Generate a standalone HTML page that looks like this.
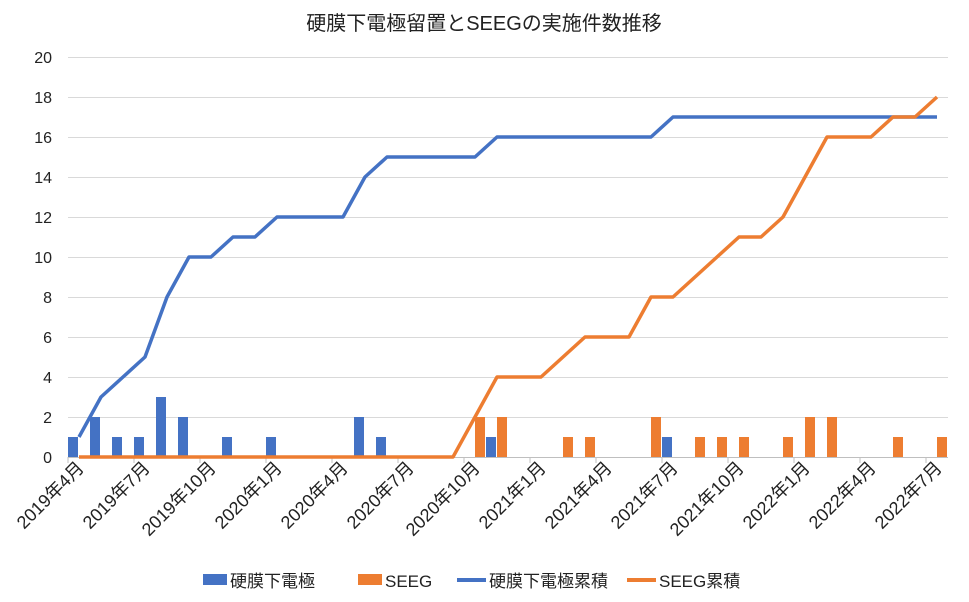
<!DOCTYPE html>
<html><head><meta charset="utf-8"><style>
html,body{margin:0;padding:0;background:#fff;}
svg{display:block;font-family:"Liberation Sans","Noto Sans CJK JP",sans-serif;}
</style></head><body>
<svg width="969" height="602" viewBox="0 0 969 602" xmlns="http://www.w3.org/2000/svg">
<rect width="969" height="602" fill="#fff"/>
<text x="484" y="30" font-size="20" text-anchor="middle" fill="#222">硬膜下電極留置とSEEGの実施件数推移</text>
<g stroke="#d9d9d9" stroke-width="1">
<line x1="68" x2="948" y1="57.5" y2="57.5"/><line x1="68" x2="948" y1="97.5" y2="97.5"/>
<line x1="68" x2="948" y1="137.5" y2="137.5"/><line x1="68" x2="948" y1="177.5" y2="177.5"/>
<line x1="68" x2="948" y1="217.5" y2="217.5"/><line x1="68" x2="948" y1="257.5" y2="257.5"/>
<line x1="68" x2="948" y1="297.5" y2="297.5"/><line x1="68" x2="948" y1="337.5" y2="337.5"/>
<line x1="68" x2="948" y1="377.5" y2="377.5"/><line x1="68" x2="948" y1="417.5" y2="417.5"/>
</g>
<g font-size="16" fill="#222" text-anchor="end">
<text x="52" y="63">20</text><text x="52" y="103">18</text><text x="52" y="143">16</text>
<text x="52" y="183">14</text><text x="52" y="223">12</text><text x="52" y="263">10</text>
<text x="52" y="303">8</text><text x="52" y="343">6</text><text x="52" y="383">4</text>
<text x="52" y="423">2</text><text x="52" y="463">0</text>
</g>
<g id="bars"></g>
<line x1="68" x2="948" y1="457.5" y2="457.5" stroke="#bfbfbf"/>
<g id="lines"></g>
<g id="labels" font-size="18" fill="#222" text-anchor="end"></g>
<g font-size="17" fill="#222">
<rect x="203" y="574" width="24" height="11" fill="#4472c4"/><text x="230" y="587">硬膜下電極</text>
<rect x="358" y="574" width="24" height="11" fill="#ed7d31"/><text x="385" y="587">SEEG</text>
<line x1="457" x2="486" y1="580" y2="580" stroke="#4472c4" stroke-width="4"/><text x="489" y="587">硬膜下電極累積</text>
<line x1="627" x2="656" y1="580" y2="580" stroke="#ed7d31" stroke-width="4"/><text x="659" y="587">SEEG累積</text>
</g>
<script>
var blue=new Array(40).fill(0),orng=new Array(40).fill(0);
[[0,1],[1,2],[2,1],[3,1],[4,3],[5,2],[7,1],[9,1],[13,2],[14,1],[19,1],[27,1]].forEach(function(a){blue[a[0]]=a[1];});
[[18,2],[19,2],[22,1],[23,1],[26,2],[28,1],[29,1],[30,1],[32,1],[33,2],[34,2],[37,1],[39,1]].forEach(function(a){orng[a[0]]=a[1];});
var ns="http://www.w3.org/2000/svg",bars=document.getElementById("bars"),lines=document.getElementById("lines"),labels=document.getElementById("labels");
function el(t,at,p){var e=document.createElementNS(ns,t);for(var k in at)e.setAttribute(k,at[k]);p.appendChild(e);return e;}
var cb=0,co=0,pb=[],po=[];
for(var i=0;i<40;i++){
 var c=79+22*i;
 if(blue[i])el("rect",{x:c-11,y:457-20*blue[i],width:10,height:20*blue[i],fill:"#4472c4"},bars);
 if(orng[i])el("rect",{x:c,y:457-20*orng[i],width:10,height:20*orng[i],fill:"#ed7d31"},bars);
 cb+=blue[i];co+=orng[i];pb.push(c+","+(457-20*cb));po.push(c+","+(457-20*co));
 if(i%3==0){var y=0,m=4+i;y=2019+Math.floor((m-1)/12);m=(m-1)%12+1;
  var t=el("text",{x:c+6,y:469,transform:"rotate(-45 "+(c+6)+" 469)"},labels);t.textContent=y+"年"+m+"月";
  el("line",{x1:68+22*i,x2:68+22*i,y1:457,y2:463,stroke:"#bfbfbf"},bars);}
}
el("polyline",{points:pb.join(" "),fill:"none",stroke:"#4472c4","stroke-width":3.5,"stroke-linejoin":"round"},lines);
el("polyline",{points:po.join(" "),fill:"none",stroke:"#ed7d31","stroke-width":3.5,"stroke-linejoin":"round"},lines);
</script>
</svg>
</body></html>
